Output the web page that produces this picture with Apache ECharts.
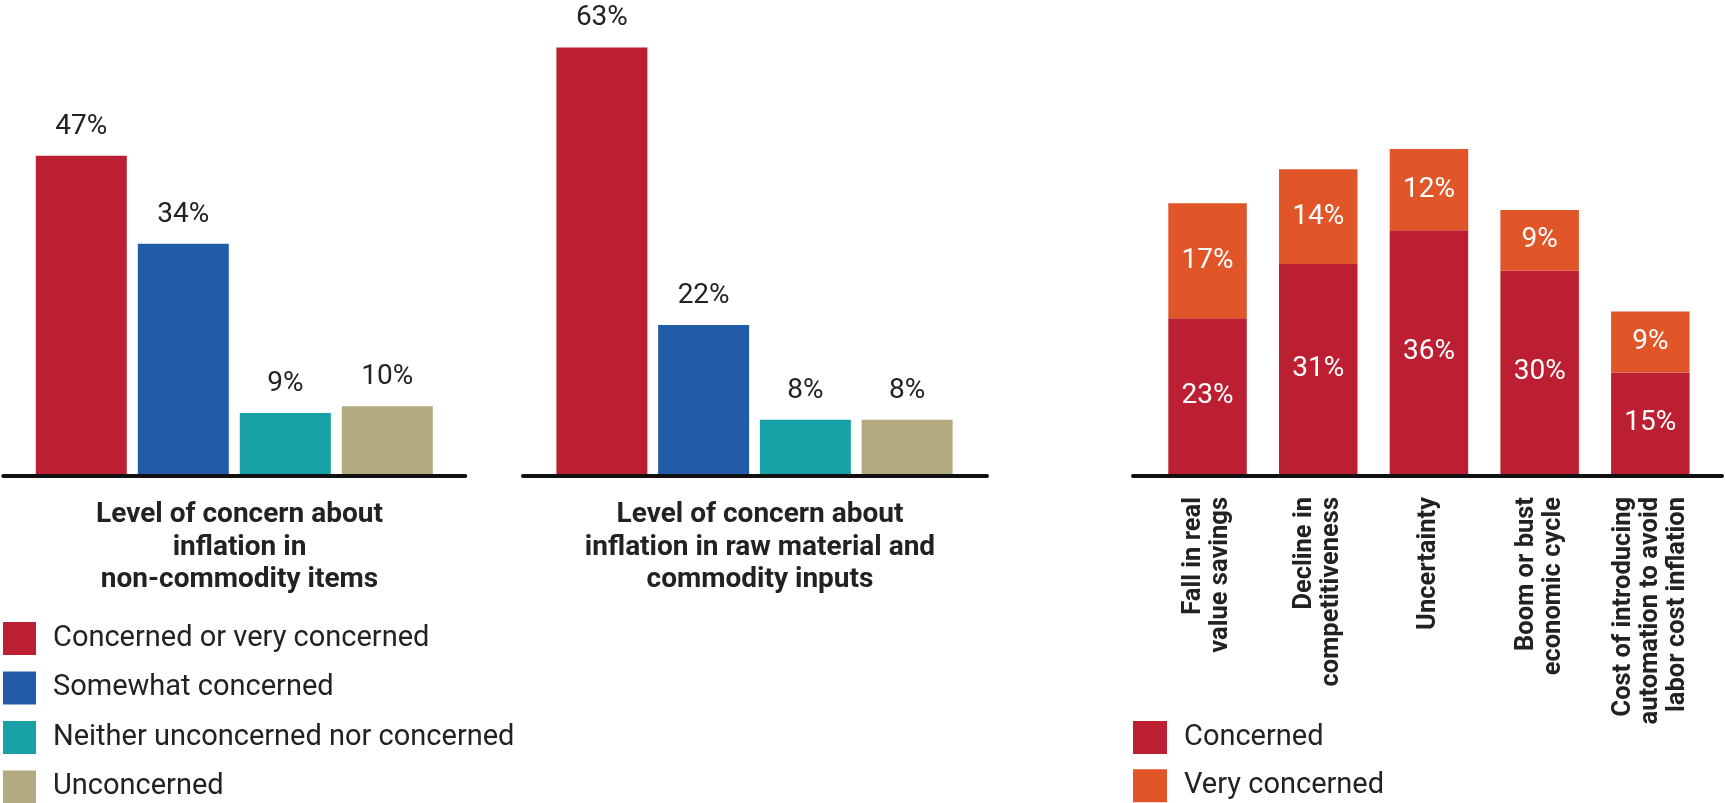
<!DOCTYPE html>
<html>
<head>
<meta charset="utf-8">
<script src="https://cdn.jsdelivr.net/npm/echarts@6/dist/echarts.min.js"></script>
<style>
  html, body { margin: 0; padding: 0; background: #fff; }
  #chart { width: 1725px; height: 803px; }
</style>
</head>
<body>
<div id="chart"></div>
<script>
// ---- Data ----
const levelNames = ['Concerned or very concerned', 'Somewhat concerned', 'Neither unconcerned nor concerned', 'Unconcerned'];
const levelColors = ['#BC1F31', '#225CA9', '#17A0A6', '#B3AB7F'];
const nonCommodity = [47, 34, 9, 10];
const rawMaterial = [63, 22, 8, 8];
const chartTitles = ['Level of concern about\ninflation in\nnon-commodity items', 'Level of concern about\ninflation in raw material and\ncommodity inputs'];

const riskCategories = ['Fall in real\nvalue savings', 'Decline in\ncompetitiveness', 'Uncertainty', 'Boom or bust\neconomic cycle', 'Cost of introducing\nautomation to avoid\nlabor cost inflation'];
const concerned = [23, 31, 36, 30, 15];
const veryConcerned = [17, 14, 12, 9, 9];
const riskNames = ['Concerned', 'Very concerned'];
const riskColors = ['#BC1F31', '#E05628'];

// ---- Build ----
const FONT = 'Roboto';
const TEXT = '#222';

function singleSeries(values, idx, gridIdx, stack) {
  return {
    name: levelNames[idx],
    type: 'bar',
    xAxisIndex: gridIdx,
    yAxisIndex: gridIdx,
    stack: stack,
    barWidth: 91,
    itemStyle: { color: levelColors[idx] },
    label: {
      show: true, position: 'top', distance: 15,
      fontFamily: FONT, fontSize: 28, color: TEXT,
      formatter: p => p.value + '%'
    },
    data: values.map((v, i) => (i === idx ? v : '-'))
  };
}

const series = [];
levelNames.forEach((n, i) => series.push(singleSeries(nonCommodity, i, 0, 'a')));
levelNames.forEach((n, i) => series.push(singleSeries(rawMaterial, i, 1, 'b')));
series.push({
  name: riskNames[0], type: 'bar', stack: 'c', xAxisIndex: 2, yAxisIndex: 2,
  barWidth: 78.5, itemStyle: { color: riskColors[0] },
  label: { show: true, position: 'inside', fontFamily: FONT, fontSize: 28, color: '#fff', formatter: p => p.value + '%' },
  data: concerned
});
series.push({
  name: riskNames[1], type: 'bar', stack: 'c', xAxisIndex: 2, yAxisIndex: 2,
  barWidth: 78.5, itemStyle: { color: riskColors[1] },
  label: { show: true, position: 'inside', fontFamily: FONT, fontSize: 28, color: '#fff', formatter: p => p.value + '%' },
  data: veryConcerned
});

const lineAxis = (gi) => ({
  type: 'category', gridIndex: gi, data: [''],
  axisLine: { show: true, lineStyle: { color: '#111', width: 4 } },
  axisTick: { show: false }, axisLabel: { show: false }
});
const hiddenY = (gi) => ({ type: 'value', gridIndex: gi, show: false, min: 0, max: 70 });

const option = {
  animation: false,
  backgroundColor: '#fff',
  title: chartTitles.map((t, i) => ({
    text: t,
    left: i === 0 ? 234.5 : 755,
    top: 494,
    textAlign: 'center',
    textStyle: { fontFamily: FONT, fontWeight: 'bold', fontSize: 28, lineHeight: 32.4, color: TEXT }
  })),
  legend: [
    {
      data: levelNames, orient: 'vertical', left: 3, top: 622, height: 400, padding: 0,
      itemWidth: 33, itemHeight: 33, itemGap: 16.5, icon: 'rect',
      textStyle: { fontFamily: FONT, fontSize: 29, color: TEXT, padding: [0, 0, 0, 12] }
    },
    {
      data: riskNames, orient: 'vertical', left: 1133, top: 721, height: 400, padding: 0,
      itemWidth: 34, itemHeight: 33, itemGap: 15.3, icon: 'rect',
      textStyle: { fontFamily: FONT, fontSize: 29, color: TEXT, padding: [0, 0, 0, 12] }
    }
  ],
  grid: [
    { left: 30.3, width: 408, top: 0, height: 474 },
    { left: 551, width: 407, top: 0, height: 474 },
    { left: 1152.2, width: 553.5, top: 0, height: 474 },
    { left: 3.3, width: 462, top: 0, height: 475.3 },
    { left: 523, width: 464, top: 0, height: 475.3 },
    { left: 1133, width: 589, top: 0, height: 475.3 }
  ],
  xAxis: [
    { type: 'category', gridIndex: 0, data: levelNames, axisLine: { show: false }, axisTick: { show: false }, axisLabel: { show: false } },
    { type: 'category', gridIndex: 1, data: levelNames, axisLine: { show: false }, axisTick: { show: false }, axisLabel: { show: false } },
    {
      type: 'category', gridIndex: 2, data: riskCategories,
      axisLine: { show: false }, axisTick: { show: false },
      axisLabel: { interval: 0, rotate: 90, margin: 23, fontFamily: FONT, fontWeight: 'bold', fontSize: 25.5, lineHeight: 27, color: TEXT }
    },
    lineAxis(3), lineAxis(4), lineAxis(5)
  ],
  yAxis: [hiddenY(0), hiddenY(1), hiddenY(2), hiddenY(3), hiddenY(4), hiddenY(5)],
  series: series
};

const chart = echarts.init(document.getElementById('chart'), null, { renderer: 'canvas' });
chart.setOption(option);
</script>
</body>
</html>
